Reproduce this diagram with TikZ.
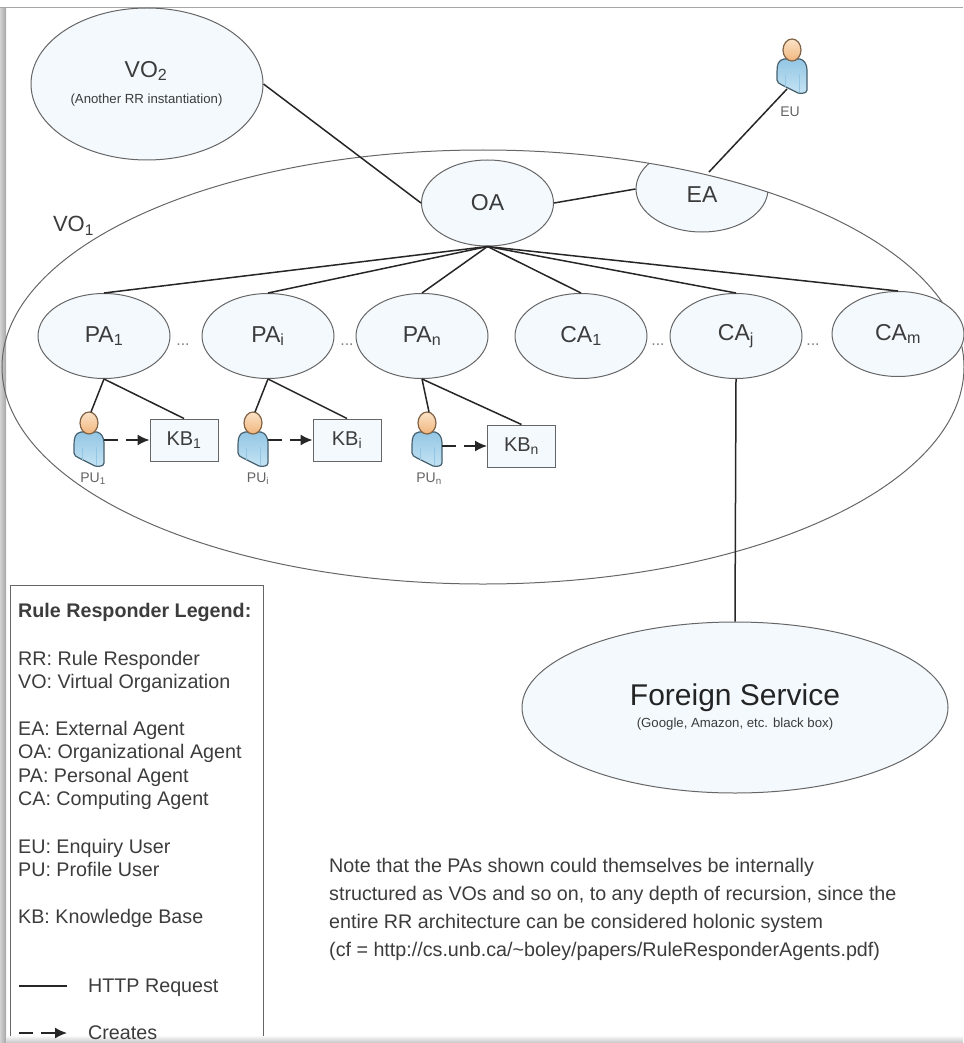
\documentclass[tikz,border=0pt]{standalone}
\usepackage{fontspec}
\setmainfont{Liberation Sans}
\usetikzlibrary{arrows.meta,shapes.geometric}

\definecolor{agentfill}{HTML}{F3F9FD}
\definecolor{edgegray}{HTML}{666666}
\definecolor{textgray}{HTML}{3C3C3C}
\definecolor{bodylight}{HTML}{C6E4F4}
\definecolor{bodydark}{HTML}{93C6E4}
\definecolor{bodyedge}{HTML}{46606E}
\definecolor{headlight}{HTML}{FBE3C8}
\definecolor{headdark}{HTML}{F0B57C}
\definecolor{headedge}{HTML}{7E6044}

\newcommand{\fsz}[1]{\fontsize{#1}{#1}\selectfont}

\tikzset{
  agent/.style={ellipse, draw=edgegray, line width=1pt, fill=agentfill, text=textgray, inner sep=0pt, minimum width=132pt, minimum height=85pt, font=\fsz{23}},
  store/.style={rectangle, draw=edgegray, line width=1pt, fill=agentfill, text=textgray, inner sep=0pt, minimum width=68pt, minimum height=42pt, font=\fsz{20}},
  request/.style={line width=1.5pt, draw=black!85},
  creates/.style={line width=1.5pt, draw=black!85, dash pattern=on 14pt off 8pt, -{Latex[length=12pt,width=11pt]}},
  dots/.style={text=gray, inner sep=0pt, font=\fsz{16}},
  userlabel/.style={text=textgray!80, inner sep=0pt, font=\fsz{14}},
  legend/.style={text=textgray, anchor=base west, inner sep=0pt, font=\fsz{19.7}},
  person/.pic={
    \path [draw=bodyedge, line width=1.2pt, top color=bodydark, bottom color=bodylight]
      (-8,9) .. controls (-14,10) and (-15,15) .. (-15,22) -- (-15,30)
      .. controls (-15,33) and (-13,33) .. (-10,35) -- (6,43)
      .. controls (10,44) and (15,43) .. (15,40) -- (15,20)
      .. controls (15,14) and (12,10) .. (8,9) -- cycle;
    \draw [line width=0.6pt, draw=bodydark] (-7,25) -- (-7,37);
    \draw [line width=0.6pt, draw=bodydark] (7,24) -- (7,42);
    \path [draw=headedge, line width=1.2pt, top color=headlight, bottom color=headdark] (0,0) ellipse [x radius=9, y radius=11];
    \coordinate (-top) at (2,-11);
    \coordinate (-foot) at (-5,39);
    \coordinate (-out) at (15,17);
  }
}

\begin{document}
\begin{tikzpicture}[x=1pt,y=-1pt]

\def\width{963}
\def\height{1043}

\path [use as bounding box] (0,0) rectangle (\width,\height);

% FRAME
\fill [left color=gray!35, right color=gray!70] (0,8) rectangle (6,\height);
\fill [top color=gray!5, bottom color=gray!45] (6,1036) rectangle (\width,\height);
\draw [line width=1pt, draw=gray!70] (0,7.5) -- (\width,7.5);

% ORGANIZATIONS
\begin{scope}
\clip (483,367) ellipse [x radius=481, y radius=217];
\node [agent, minimum height=86pt] (ea) at (702,189) {};
\end{scope}
\node [ellipse, draw=edgegray, line width=1pt, minimum width=962pt, minimum height=434pt, inner sep=0pt] (vo1) at (483,367) {};
\node [agent, minimum width=232pt, minimum height=152pt] (vo2) at (147,84) {};
\node [text=textgray, inner sep=0pt, font=\fsz{23}] (vo2name) at (146,71) {VO\textsubscript{2}};
\node [text=textgray, inner sep=0pt, font=\fsz{13.2}] (vo2note) at (146.5,100) {(Another RR instantiation)};
\node [text=textgray, inner sep=0pt, font=\fsz{22}] (vo1name) at (73.5,226) {VO\textsubscript{1}};

% AGENTS
\node [agent, minimum height=86pt] (oa) at (487.5,203) {OA};
\node [text=textgray, inner sep=0pt, font=\fsz{23}] (eaname) at (702,195) {EA};
\coordinate (eatop) at (709,172);

\node [agent] (pa1) at (104,336) {PA\textsubscript{1}};
\node [agent] (pai) at (268,336) {PA\textsubscript{i}};
\node [agent] (pan) at (422,336) {PA\textsubscript{n}};
\node [agent] (ca1) at (581,336) {CA\textsubscript{1}};
\node [agent] (caj) at (736,336) {CA\textsubscript{j}};
\node [agent] (cam) at (898,334) {CA\textsubscript{m}};

\node [dots] (dots1) at (183,345) {...};
\node [dots] (dots2) at (347,345) {...};
\node [dots] (dots3) at (658,345) {...};
\node [dots] (dots4) at (813,345) {...};

% STORES
\node [store] (kb1) at (184,440) {KB\textsubscript{1}};
\node [store] (kbi) at (347,440) {KB\textsubscript{i}};
\node [store] (kbn) at (521.5,446) {KB\textsubscript{n}};

% USERS
\pic (eu) at (792,50) {person};
\pic (pu1) at (89,423) {person};
\pic (pui) at (253,423) {person};
\pic (pun) at (427,423) {person};
\node [userlabel] (eulabel) at (790,112) {EU};
\node [userlabel] (pu1label) at (93,479) {PU\textsubscript{1}};
\node [userlabel] (puilabel) at (258,479) {PU\textsubscript{i}};
\node [userlabel] (punlabel) at (429,479) {PU\textsubscript{n}};

% FOREIGN SERVICE
\node [agent, minimum width=426pt, minimum height=171pt] (fs) at (735,707.5) {};
\node [text=textgray!60!black, inner sep=0pt, font=\fsz{30}] (fsname) at (735,698) {Foreign Service};
\node [text=textgray, inner sep=0pt, font=\fsz{13.2}] (fsnote) at (735,724) {(Google, Amazon, etc. black box)};

% REQUESTS
\draw [request] (vo2.east) -- (oa.west);
\draw [request] (oa.east) -- (ea.west);
\draw [request] (eu-foot) -- (eatop);
\draw [request] (oa.south) -- (pa1.north);
\draw [request] (oa.south) -- (pai.north);
\draw [request] (oa.south) -- (pan.north);
\draw [request] (oa.south) -- (ca1.north);
\draw [request] (oa.south) -- (caj.north);
\draw [request] (oa.south) -- (cam.north);
\draw [request] (pa1.south) -- (pu1-top);
\draw [request] (pa1.south) -- (kb1.north);
\draw [request] (pai.south) -- (pui-top);
\draw [request] (pai.south) -- (kbi.north);
\draw [request] (pan.south) -- (pun-top);
\draw [request] (pan.south) -- (kbn.north);
\draw [request] (caj.south) -- (fs.north);

% CREATES
\draw [creates] (pu1-out) -- (kb1.west);
\draw [creates] (pui-out) -- (kbi.west);
\draw [creates] (pun-out |- kbn.west) -- (kbn.west);

% LEGEND
\draw [line width=1pt, draw=edgegray] (10,1036) -- (10,585) -- (263,585) -- (263,1036);
\node [legend, font=\fsz{19.7}\bfseries] (legendtitle) at (18,617) {Rule Responder Legend:};
\node [legend] (legrr) at (18,665) {RR: Rule Responder};
\node [legend] (legvo) at (18,688) {VO: Virtual Organization};
\node [legend] (legea) at (18,735) {EA: External Agent};
\node [legend] (legoa) at (18,758) {OA: Organizational Agent};
\node [legend] (legpa) at (18,782) {PA: Personal Agent};
\node [legend] (legca) at (18,805) {CA: Computing Agent};
\node [legend] (legeu) at (18,853) {EU: Enquiry User};
\node [legend] (legpu) at (18,876) {PU: Profile User};
\node [legend] (legkb) at (18,923) {KB: Knowledge Base};
\node [legend] (leghttp) at (88,992) {HTTP Request};
\node [legend] (legcreates) at (88,1039) {Creates};
\coordinate (httpa) at (19,986);
\coordinate (httpb) at (67,986);
\coordinate (createa) at (19,1033);
\coordinate (createb) at (67,1033);
\draw [request] (httpa) -- (httpb);
\draw [creates] (createa) -- (createb);

% NOTE
\node [text=textgray, align=left, anchor=north west, inner sep=0pt, font=\fontsize{19.7}{28}\selectfont] (note) at (329,858) {Note that the PAs shown could themselves be internally\\structured as VOs and so on, to any depth of recursion, since the\\entire RR architecture can be considered holonic system\\(cf = http://cs.unb.ca/\textasciitilde boley/papers/RuleResponderAgents.pdf)};

\end{tikzpicture}
\end{document}
